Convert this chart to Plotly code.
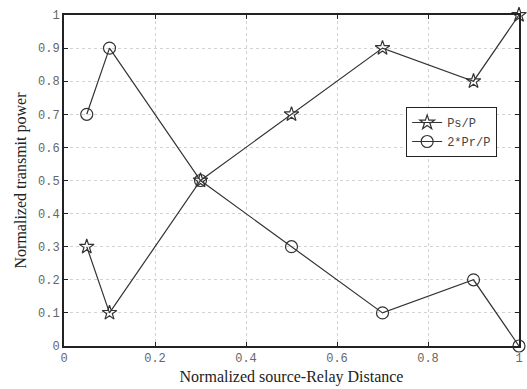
import plotly.graph_objects as go

x_vals = [0.05, 0.1, 0.3, 0.5, 0.7, 0.9, 1.0]
ps_p = [0.3, 0.1, 0.5, 0.7, 0.9, 0.8, 1.0]
pr_p = [0.7, 0.9, 0.5, 0.3, 0.1, 0.2, 0.0]
tick_vals_x = [0, 0.2, 0.4, 0.6, 0.8, 1]
tick_text_x = ["0", "0.2", "0.4", "0.6", "0.8", "1"]
tick_vals_y = [0, 0.1, 0.2, 0.3, 0.4, 0.5, 0.6, 0.7, 0.8, 0.9, 1]
tick_text_y = ["0", "0.1", "0.2", "0.3", "0.4", "0.5", "0.6", "0.7", "0.8", "0.9", "1"]

line_col = "#333333"
fig = go.Figure()
fig.add_trace(go.Scatter(x=x_vals, y=ps_p, name="Ps/P", mode="lines+markers", cliponaxis=False,
                         line=dict(color=line_col, width=1.2),
                         marker=dict(symbol="star-open", size=11, color=line_col, line=dict(width=1.2))))
fig.add_trace(go.Scatter(x=x_vals, y=pr_p, name="2*Pr/P", mode="lines+markers", cliponaxis=False,
                         line=dict(color=line_col, width=1.2),
                         marker=dict(symbol="circle-open", size=12, color=line_col, line=dict(width=1.2))))

axis_common = dict(showline=True, linecolor="#222", linewidth=2, mirror="ticks",
                   ticks="inside", ticklen=4, tickcolor="#222", automargin=False,
                   showgrid=True, gridcolor="#d2d2d2", griddash="dot", gridwidth=1,
                   zeroline=False,
                   tickfont=dict(family="Liberation Mono, Courier New, monospace", size=12, color="#666"))

fig.update_xaxes(range=[0, 1], tickvals=tick_vals_x, ticktext=tick_text_x,
                 title=dict(text="Normalized source-Relay Distance", standoff=5,
                            font=dict(family="Liberation Serif, Times New Roman, serif", size=16, color="#222")),
                 **axis_common)
fig.update_yaxes(range=[0, 1], tickvals=tick_vals_y, ticktext=tick_text_y,
                 title=dict(text="Normalized transmit power", standoff=7,
                            font=dict(family="Liberation Serif, Times New Roman, serif", size=16, color="#222")),
                 **axis_common)

fig.update_layout(width=527, height=389, margin=dict(l=64, r=8, t=15, b=43),
                  paper_bgcolor="white", plot_bgcolor="white",
                  legend=dict(x=0.752, y=0.722, xanchor="left", yanchor="top",
                              bordercolor="#222", borderwidth=1, bgcolor="white",
                              font=dict(family="Liberation Mono, Courier New, monospace", size=12, color="#444"),
                              itemwidth=30, tracegroupgap=0))
fig.write_html("out.html", config={"displayModeBar": False},
               post_script="document.body.style.margin='0';document.body.style.overflow='hidden';")
